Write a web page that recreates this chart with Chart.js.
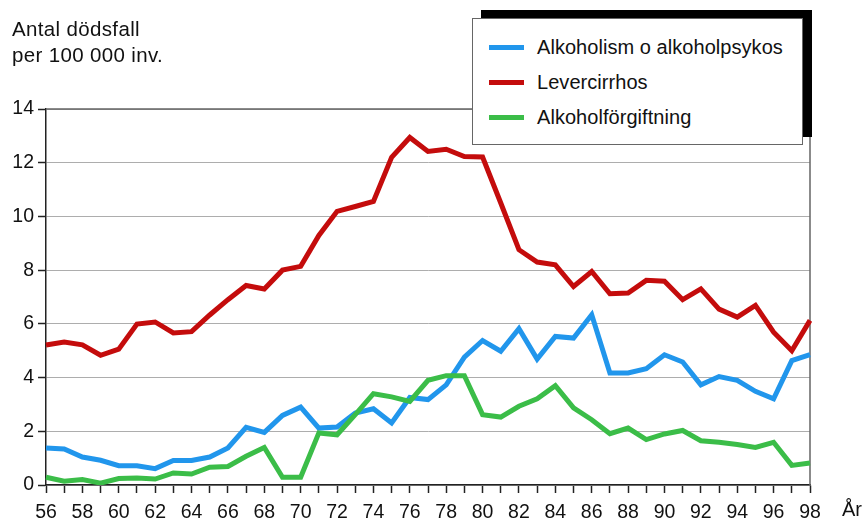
<!DOCTYPE html>
<html>
<head>
<meta charset="utf-8">
<script src="https://cdn.jsdelivr.net/npm/chart.js@4.4.1/dist/chart.umd.min.js"></script>
<style>
  html, body { margin: 0; padding: 0; background: #fff; }
  #wrap { position: relative; width: 865px; height: 521px; overflow: hidden; font-family: "Liberation Sans", Arial, sans-serif; color: #111; }
  #c { position: absolute; left: 0; top: 0; }
  #ytitle { position: absolute; left: 12px; top: 16px; font-size: 20.5px; line-height: 26px; letter-spacing: 0.35px; }
  #xtitle { position: absolute; left: 842px; top: 496px; font-size: 20px; line-height: 26px; }
  #lgshadow { position: absolute; left: 481px; top: 10px; width: 331px; height: 127px; background: #000; }
  #lgbox { position: absolute; left: 472px; top: 18px; width: 329px; height: 125px; background: #fff; border: 1px solid #666; }
  .row { position: absolute; left: 0; height: 26px; font-size: 20px; line-height: 26px; }
  .sw { position: absolute; left: 16px; top: 11px; width: 35px; height: 5px; }
  .tx { position: absolute; left: 64px; top: 0; white-space: nowrap; letter-spacing: 0.05px; }
</style>
</head>
<body>
<div id="wrap">
  <canvas id="c" width="865" height="521"></canvas>
  <div id="ytitle">Antal dödsfall<br>per 100 000 inv.</div>
  <div id="xtitle">År</div>
  <div id="lgshadow"></div>
  <div id="lgbox"></div>
</div>
<script>
// Years (19xx)
const years = [56,57,58,59,60,61,62,63,64,65,66,67,68,69,70,71,72,73,74,75,76,77,78,79,80,81,82,83,84,85,86,87,88,89,90,91,92,93,94,95,96,97,98];

// Alkoholism o alkoholpsykos
const alkoholism = [1.38,1.34,1.04,0.92,0.72,0.72,0.61,0.91,0.91,1.04,1.38,2.15,1.96,2.59,2.9,2.12,2.16,2.68,2.84,2.31,3.26,3.18,3.73,4.76,5.38,4.98,5.82,4.69,5.53,5.47,6.34,4.17,4.17,4.33,4.85,4.58,3.73,4.04,3.9,3.49,3.21,4.63,4.85];

// Levercirrhos
const levercirrhos = [5.21,5.32,5.22,4.83,5.06,5.99,6.07,5.66,5.71,6.33,6.9,7.43,7.3,8.0,8.14,9.29,10.19,10.37,10.56,12.2,12.94,12.42,12.5,12.23,12.21,10.5,8.76,8.3,8.2,7.39,7.95,7.12,7.15,7.62,7.59,6.9,7.3,6.55,6.25,6.69,5.69,5.0,6.13];

// Alkoholförgiftning
const forgiftning = [0.29,0.14,0.2,0.07,0.24,0.26,0.22,0.45,0.41,0.66,0.69,1.07,1.4,0.29,0.29,1.94,1.87,2.62,3.4,3.28,3.11,3.9,4.07,4.07,2.62,2.53,2.93,3.21,3.7,2.87,2.43,1.91,2.12,1.69,1.9,2.03,1.65,1.59,1.51,1.4,1.59,0.73,0.82];

const seriesNames = ["Alkoholism o alkoholpsykos", "Levercirrhos", "Alkoholförgiftning"];
const seriesColors = ["#2196ec", "#c40c0c", "#3bbd48"];
const yTicks = [0,2,4,6,8,10,12,14];

// HTML legend
const lgbox = document.getElementById('lgbox');
seriesNames.forEach((name, i) => {
  const row = document.createElement('div');
  row.className = 'row';
  row.style.top = (15 + i * 35) + 'px';
  row.style.width = '320px';
  const sw = document.createElement('div');
  sw.className = 'sw';
  sw.style.background = seriesColors[i];
  const tx = document.createElement('div');
  tx.className = 'tx';
  tx.textContent = name;
  row.appendChild(sw); row.appendChild(tx);
  lgbox.appendChild(row);
});

const framePlugin = {
  id: 'frame',
  beforeDatasetsDraw(chart) {
    const { ctx, chartArea: a } = chart;
    ctx.save();
    ctx.strokeStyle = '#666';
    ctx.lineWidth = 1.5;
    ctx.beginPath();
    ctx.moveTo(a.left, a.top);
    ctx.lineTo(a.right, a.top);
    ctx.lineTo(a.right, a.bottom);
    ctx.stroke();
    ctx.restore();
  }
};

const font = { family: '"Liberation Sans", Arial, sans-serif', size: 19.5 };
const datasets = [alkoholism, levercirrhos, forgiftning].map((d, i) => ({
  label: seriesNames[i],
  data: d,
  borderColor: seriesColors[i],
  backgroundColor: seriesColors[i],
  borderWidth: 5,
  pointRadius: 0,
  tension: 0,
  fill: false,
  order: 3 - i
}));

new Chart(document.getElementById('c'), {
  type: 'line',
  data: { labels: years, datasets },
  options: {
    responsive: false,
    animation: false,
    devicePixelRatio: 1,
    layout: { padding: { top: 109, right: 55, left: 0, bottom: 0 } },
    plugins: { legend: { display: false }, tooltip: { enabled: false } },
    scales: {
      x: {
        type: 'category',
        offset: false,
        afterFit(s) { s.height = 36; },
        grid: { drawOnChartArea: false, drawTicks: true, tickLength: 8, tickColor: '#222', tickWidth: 1.5 },
        border: { display: true, color: '#222', width: 1.5 },
        ticks: {
          autoSkip: false, maxRotation: 0, minRotation: 0, padding: 8,
          color: '#111', font,
          callback(v, i) { return years[i] % 2 === 0 ? String(years[i]) : ''; }
        }
      },
      y: {
        min: 0, max: 14,
        afterFit(s) { s.width = 46; },
        afterBuildTicks(s) { s.ticks = yTicks.map(v => ({ value: v })); },
        grid: { color: '#adadad', lineWidth: 1, drawTicks: true, tickLength: 8, tickColor: '#222', tickWidth: 1.5 },
        border: { display: true, color: '#222', width: 1.5 },
        ticks: { padding: 4, color: '#111', font }
      }
    }
  },
  plugins: [framePlugin]
});
</script>
</body>
</html>
